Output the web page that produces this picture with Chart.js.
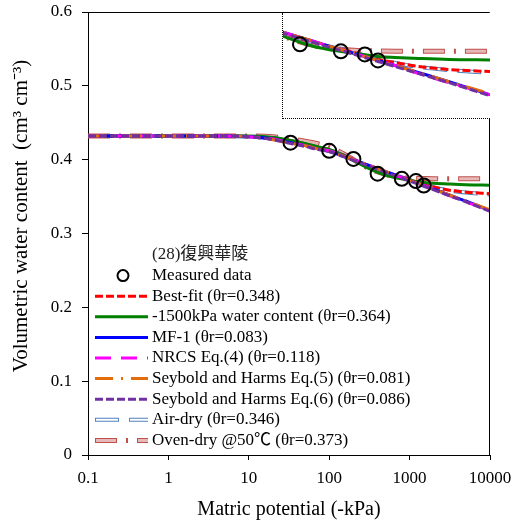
<!DOCTYPE html>
<html>
<head>
<meta charset="utf-8">
<script src="https://cdn.jsdelivr.net/npm/chart.js@4.4.1/dist/chart.umd.min.js"></script>
<style>
  html, body { margin: 0; padding: 0; background: #fff; }
  #wrap { position: relative; width: 512px; height: 524px; }
  #grafico { display: block; }
  #inset { position: absolute; left: 282px; top: 13px; width: 208px; height: 106px; box-sizing: border-box;
           border-left: 1px dotted #000; border-bottom: 1px dotted #000; background: #fff; }
  #grafico-inset { display: block; }
</style>
</head>
<body>
<div id="wrap">
  <canvas id="grafico" width="512" height="524"></canvas>
  <div id="inset"><canvas id="grafico-inset" width="207" height="105"></canvas></div>
</div>
<script>
// Dados (potencial matricial em -kPa, teor de água em cm3/cm3)
const potencial = [0.1, 1, 5, 10, 20, 30, 50, 70, 100, 150, 200, 300, 500, 700, 1000, 1500, 2000, 3000, 5000, 10000];

const bestFit  = [0.432, 0.432, 0.432, 0.431, 0.429, 0.426, 0.421, 0.417, 0.413, 0.406, 0.400, 0.392, 0.383, 0.378, 0.373, 0.366, 0.363, 0.359, 0.356, 0.354];
const wc1500   = [0.432, 0.432, 0.432, 0.432, 0.430, 0.427, 0.422, 0.418, 0.414, 0.406, 0.399, 0.389, 0.379, 0.375, 0.372, 0.369, 0.368, 0.367, 0.366, 0.3655];
const mf1      = [0.432, 0.432, 0.432, 0.431, 0.428, 0.424, 0.419, 0.415, 0.411, 0.405, 0.400, 0.393, 0.384, 0.378, 0.372, 0.365, 0.360, 0.353, 0.344, 0.331];
const nrcs     = [0.432, 0.432, 0.432, 0.431, 0.428, 0.424, 0.419, 0.415, 0.412, 0.405, 0.400, 0.393, 0.384, 0.378, 0.372, 0.365, 0.360, 0.352, 0.343, 0.331];
const seybold5 = [0.432, 0.432, 0.432, 0.431, 0.427, 0.423, 0.419, 0.415, 0.411, 0.405, 0.400, 0.393, 0.384, 0.378, 0.372, 0.365, 0.360, 0.353, 0.344, 0.332];
const seybold6 = [0.432, 0.432, 0.432, 0.431, 0.427, 0.423, 0.418, 0.414, 0.411, 0.404, 0.399, 0.392, 0.383, 0.377, 0.371, 0.364, 0.359, 0.352, 0.343, 0.330];
const airDry   = [0.432, 0.432, 0.432, 0.431, 0.429, 0.426, 0.421, 0.417, 0.413, 0.406, 0.400, 0.392, 0.383, 0.378, 0.373, 0.366, 0.3625, 0.3585, 0.3555, 0.3528];
const ovenDry  = [0.432, 0.432, 0.432, 0.432, 0.431, 0.429, 0.425, 0.422, 0.417, 0.408, 0.400, 0.389, 0.380, 0.377, 0.375, 0.3745, 0.3742, 0.374, 0.374, 0.374];

const medidoKPa   = [33, 100, 200, 400, 800, 1200, 1500];
const medidoTheta = [0.423, 0.412, 0.401, 0.381, 0.374, 0.371, 0.365];

const xTicks = [0.1, 1, 10, 100, 1000, 10000];
const tituloLegenda = '(28)復興華陵';
const tituloY = 'Volumetric water content  (cm³ cm⁻³)';

const FONTE = '"Liberation Serif", "Times New Roman", "Noto Sans CJK TC", serif';
Chart.defaults.font.family = FONTE;
Chart.defaults.color = '#000';

// Séries na ordem da legenda
const series = [
  { label: 'Best-fit (θr=0.348)', data: bestFit, color: '#FF0000', width: 3, dash: [8, 3] },
  { label: '-1500kPa water content (θr=0.364)', data: wc1500, color: '#008000', width: 3, dash: [] },
  { label: 'MF-1 (θr=0.083)', data: mf1, color: '#0000FF', width: 3, dash: [] },
  { label: 'NRCS Eq.(4) (θr=0.118)', data: nrcs, color: '#FF00FF', width: 3, dash: [16, 10] },
  { label: 'Seybold and Harms Eq.(5) (θr=0.081)', data: seybold5, color: '#E46C0A', width: 3, dash: [18, 8, 2, 8] },
  { label: 'Seybold and Harms Eq.(6) (θr=0.086)', data: seybold6, color: '#7030A0', width: 3, dash: [8, 3] },
  { label: 'Air-dry (θr=0.346)', data: airDry, color: '#4F81BD', width: 4, dash: [24, 10], inner: '#FFFFFF', innerWidth: 2 },
  { label: 'Oven-dry @50℃ (θr=0.373)', data: ovenDry, color: '#C0504D', width: 5, dash: [22, 9, 2, 9], inner: '#E6B9B8', innerWidth: 3 }
];
// ordem de desenho, de baixo para cima (índices em series)
const ordemDesenho = [7, 6, 0, 1, 2, 3, 4, 5];

function innerDash(dash) {
  const total = dash.reduce((a, b) => a + b, 0);
  return [dash[0] - 2, total - dash[0] + 2];
}

function montarDatasets() {
  const pts = arr => potencial.map((p, i) => ({ x: p, y: arr[i] }));
  const linhas = [];
  ordemDesenho.forEach(k => {
    const s = series[k];
    linhas.push({ label: s.label, data: pts(s.data), borderColor: s.color, borderWidth: s.width,
      borderDash: s.dash, pointRadius: 0, cubicInterpolationMode: 'monotone', fill: false });
    if (s.inner) {
      linhas.push({ label: '', data: pts(s.data), borderColor: s.inner, borderWidth: s.innerWidth,
        borderDash: innerDash(s.dash), borderDashOffset: -1, pointRadius: 0,
        cubicInterpolationMode: 'monotone', fill: false });
    }
  });
  linhas.reverse(); // dataset 0 fica por cima
  linhas.unshift({
    label: 'Measured data',
    data: medidoKPa.map((p, i) => ({ x: p, y: medidoTheta[i] })),
    showLine: false, pointRadius: 7, pointBorderWidth: 2,
    pointBorderColor: '#000', pointBackgroundColor: 'rgba(0,0,0,0)'
  });
  return linhas;
}

// Borda, título do eixo y e legenda
const bordaLegenda = {
  id: 'bordaLegenda',
  afterDraw(chart) {
    const { ctx, chartArea: a } = chart;
    ctx.save();
    ctx.strokeStyle = '#000';
    ctx.lineWidth = 1;
    ctx.setLineDash([]);
    ctx.beginPath();
    ctx.moveTo(a.left, a.top + 0.5);
    ctx.lineTo(a.right - 0.5, a.top + 0.5);
    ctx.lineTo(a.right - 0.5, a.bottom);
    ctx.stroke();

    ctx.save();
    ctx.translate(21, 216);
    ctx.rotate(-Math.PI / 2);
    ctx.font = '21px ' + FONTE;
    ctx.textAlign = 'center';
    ctx.textBaseline = 'middle';
    ctx.fillStyle = '#000';
    ctx.fillText(tituloY, 0, 0);
    ctx.restore();

    const x1 = 95, x2 = 148, xt = 152, y0 = 255, passo = 20.6;
    ctx.font = '17px ' + FONTE;
    ctx.textBaseline = 'middle';
    ctx.textAlign = 'left';
    ctx.fillStyle = '#222';
    ctx.fillText(tituloLegenda, xt, y0);
    ctx.fillStyle = '#000';

    let y = y0 + passo;
    ctx.beginPath();
    ctx.arc(123, y, 5.5, 0, Math.PI * 2);
    ctx.lineWidth = 2;
    ctx.stroke();
    ctx.fillText('Measured data', xt, y);

    series.forEach(s => {
      y += passo;
      ctx.beginPath();
      ctx.setLineDash(s.dash);
      ctx.lineDashOffset = 0;
      ctx.strokeStyle = s.color;
      ctx.lineWidth = s.width;
      ctx.moveTo(x1, y);
      ctx.lineTo(x2, y);
      ctx.stroke();
      if (s.inner) {
        ctx.beginPath();
        ctx.setLineDash(innerDash(s.dash));
        ctx.lineDashOffset = -1;
        ctx.strokeStyle = s.inner;
        ctx.lineWidth = s.innerWidth;
        ctx.moveTo(x1, y);
        ctx.lineTo(x2, y);
        ctx.stroke();
      }
      ctx.setLineDash([]);
      ctx.fillStyle = '#000';
      ctx.fillText(s.label, xt, y);
    });
    ctx.restore();
  }
};

const grafico = new Chart(document.getElementById('grafico'), {
  type: 'line',
  data: { datasets: montarDatasets() },
  plugins: [bordaLegenda],
  options: {
    responsive: false,
    animation: false,
    layout: { padding: { top: 12, right: 22, left: 0, bottom: 0 }, autoPadding: false },
    plugins: { legend: { display: false }, tooltip: { enabled: false } },
    scales: {
      x: {
        type: 'logarithmic', min: 0.1, max: 10000,
        afterBuildTicks: s => { s.ticks = xTicks.map(v => ({ value: v })); },
        afterFit: s => { s.height = 69; s.paddingLeft = 0; s.paddingRight = 0; },
        ticks: { callback: v => String(v), font: { size: 17 }, color: '#000', padding: 8, maxRotation: 0, autoSkip: false },
        grid: { drawOnChartArea: false, tickLength: 5, color: '#000' },
        border: { color: '#000', width: 1 },
        title: { display: true, text: 'Matric potential (-kPa)', font: { size: 20 }, color: '#000', padding: { top: 0, bottom: 2 } }
      },
      y: {
        min: 0, max: 0.6,
        afterFit: s => { s.width = 88; s.paddingTop = 0; s.paddingBottom = 0; },
        ticks: { stepSize: 0.1, callback: v => v === 0 ? '0' : v.toFixed(1), font: { size: 17 }, color: '#000', padding: 10 },
        grid: { drawOnChartArea: false, tickLength: 6, color: '#000' },
        border: { color: '#000', width: 1 }
      }
    }
  }
});

// Detalhe ampliado (canto superior direito)
const graficoInset = new Chart(document.getElementById('grafico-inset'), {
  type: 'line',
  data: { datasets: montarDatasets() },
  options: {
    responsive: false,
    animation: false,
    layout: { padding: 0, autoPadding: false },
    plugins: { legend: { display: false }, tooltip: { enabled: false } },
    scales: {
      x: { type: 'logarithmic', min: 300, max: 10000, display: false },
      y: { min: 0.308, max: 0.412, display: false }
    }
  }
});
</script>
</body>
</html>
